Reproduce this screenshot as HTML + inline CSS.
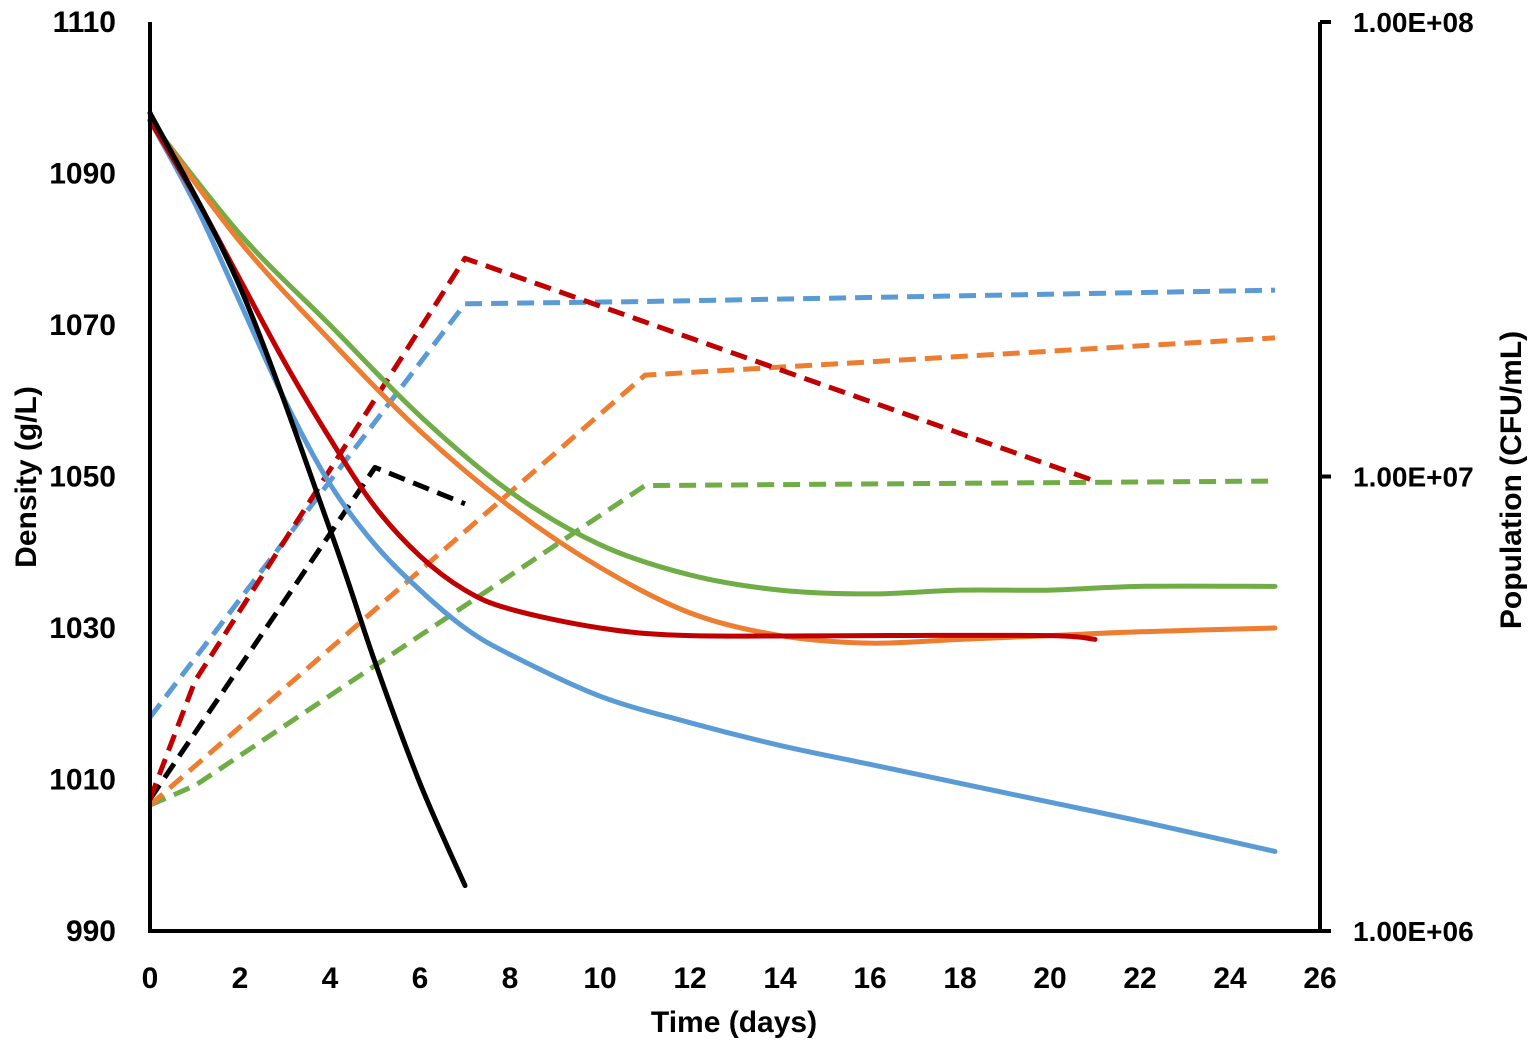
<!DOCTYPE html>
<html><head><meta charset="utf-8"><style>
html,body{margin:0;padding:0;background:#fff;}
svg{display:block;font-family:"Liberation Sans",sans-serif;font-weight:bold;}
</style></head><body>
<svg id="chart" width="1535" height="1048" viewBox="0 0 1535 1048" xmlns="http://www.w3.org/2000/svg"></svg>
<script>
const xTicks=[0,2,4,6,8,10,12,14,16,18,20,22,24,26];
const yTicks=[990,1010,1030,1050,1070,1090,1110];
const y2Ticks=[6,7,8];
const y2Labels=["1.00E+06","1.00E+07","1.00E+08"];
const blackDensDays=[0,2,4,5,6,7];
const blackDens=[1098,1075,1043,1025.5,1009.5,996];
const blueDensDays=[0,1,2,3,4,5,6,7,8,10,12,14,16,18,20,22,25];
const blueDens=[1097,1086,1073,1060,1049,1041,1035,1030,1026.5,1021,1017.5,1014.5,1012,1009.5,1007,1004.5,1000.5];
const redDensDays=[0,1,2,3,4,5,6,7,8,10,12,16,20,21];
const redDens=[1097,1087,1076,1065,1055,1046,1039.5,1035,1032.5,1030,1029,1029,1029,1028.5];
const orangeDensDays=[0,2,4,6,8,10,12,14,16,18,20,22,25];
const orangeDens=[1097,1081,1068,1056,1046,1038,1032,1029,1028,1028.5,1029,1029.5,1030];
const greenDensDays=[0,2,4,6,8,10,12,14,16,18,20,22,25];
const greenDens=[1097,1082,1070,1058,1048,1041,1037,1035,1034.5,1035,1035,1035.5,1035.5];
const bluePopDays=[0,7,11,25];
const bluePopLog=[6.47,7.38,7.385,7.41];
const redPopDays=[0,1,7,21];
const redPopLog=[6.29,6.55,7.48,6.99];
const blackPopDays=[0,5,7];
const blackPopLog=[6.29,7.02,6.94];
const orangePopDays=[0,11,25];
const orangePopLog=[6.277,7.223,7.305];
const greenPopDays=[0,1,11,25];
const greenPopLog=[6.277,6.32,6.98,6.99];

const svg=document.getElementById('chart');
const NS='http://www.w3.org/2000/svg';
const X0=150,X1=1320,Y0=931,Y1=22;
const xs=d=>X0+(d-0)/26*(X1-X0);
const ys=v=>Y0-(v-990)/120*(Y0-Y1);
const y2s=l=>Y0-(l-6)/2*(Y0-Y1);
function mk(tag,attrs){const e=document.createElementNS(NS,tag);for(const k in attrs)e.setAttribute(k,attrs[k]);svg.appendChild(e);return e;}
function smooth(pts){let d='M'+pts[0][0]+','+pts[0][1];for(let i=0;i<pts.length-1;i++){const p0=pts[i-1]||pts[i],p1=pts[i],p2=pts[i+1],p3=pts[i+2]||p2;const c1x=p1[0]+(p2[0]-p0[0])/6,c1y=p1[1]+(p2[1]-p0[1])/6,c2x=p2[0]-(p3[0]-p1[0])/6,c2y=p2[1]-(p3[1]-p1[1])/6;d+=` C${c1x},${c1y} ${c2x},${c2y} ${p2[0]},${p2[1]}`;}return d;}
function series(days,vals,scale,color,dashed,name,curve){
 const pts=days.map((d,i)=>[xs(d),scale(vals[i])]);
 const d=curve?smooth(pts):'M'+pts.map(p=>p.join(',')).join(' L');
 const p=mk('path',{d:d,fill:'none',stroke:color,'stroke-width':5,'stroke-linejoin':'round','stroke-linecap':dashed?'butt':'round'});
 if(dashed)p.setAttribute('stroke-dasharray','17 9');
 
 
}
series(greenPopDays,greenPopLog,y2s,'#70AD47',true,'green-population-line',false);
series(orangePopDays,orangePopLog,y2s,'#ED7D31',true,'orange-population-line',false);
series(blackPopDays,blackPopLog,y2s,'#000',true,'black-population-line',false);
series(bluePopDays,bluePopLog,y2s,'#5B9BD5',true,'blue-population-line',false);
series(redPopDays,redPopLog,y2s,'#C00000',true,'red-population-line',false);
series(greenDensDays,greenDens,ys,'#70AD47',false,'green-density-line',true);
series(orangeDensDays,orangeDens,ys,'#ED7D31',false,'orange-density-line',true);
series(blueDensDays,blueDens,ys,'#5B9BD5',false,'blue-density-line',true);
series(redDensDays,redDens,ys,'#C00000',false,'red-density-line',true);
series(blackDensDays,blackDens,ys,'#000',false,'black-density-line',true);
let a=mk('path',{d:`M${X0},${Y1} L${X0},${Y0} L${X1},${Y0}`,fill:'none',stroke:'#000','stroke-width':4});

a=mk('line',{x1:X1,y1:Y1,x2:X1,y2:Y0,stroke:'#000','stroke-width':4});

y2Ticks.forEach((l,i)=>{
 const t=mk('line',{x1:X1,x2:X1+11,y1:y2s(l),y2:y2s(l),stroke:'#000','stroke-width':4});
 
 const tx=mk('text',{x:X1+33,y:y2s(l)+10,'font-size':28});tx.textContent=y2Labels[i];
 
});
yTicks.forEach(v=>{
 const tx=mk('text',{x:116,y:ys(v)+10,'font-size':30,'text-anchor':'end'});tx.textContent=v;
 
});
xTicks.forEach(d=>{
 const tx=mk('text',{x:xs(d),y:988,'font-size':30,'text-anchor':'middle'});tx.textContent=d;
 
});
let t=mk('text',{x:734,y:1032,'font-size':30,'text-anchor':'middle'});t.textContent='Time (days)';

t=mk('text',{x:0,y:0,'font-size':30,'text-anchor':'middle',transform:'translate(36,477) rotate(-90)'});t.textContent='Density (g/L)';

t=mk('text',{x:0,y:0,'font-size':30,'text-anchor':'middle',transform:'translate(1521,480) rotate(-90)'});t.textContent='Population (CFU/mL)';

</script>
</body></html>
